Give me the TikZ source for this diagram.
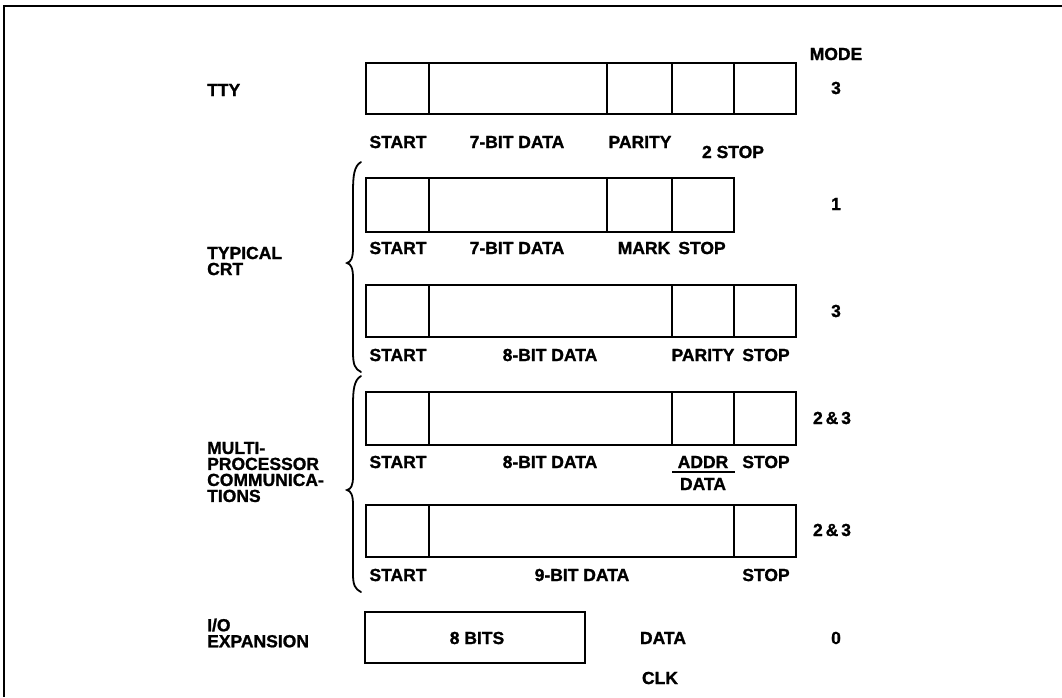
\documentclass[tikz,border=0pt]{standalone}
\usepackage{fontspec}
\setmainfont{Liberation Sans}
\newfontfamily\heavyfont[FakeBold=1.2]{Liberation Sans Bold}
\begin{document}
\begin{tikzpicture}[x=1pt,y=-1pt,
  lab/.style={font=\heavyfont\fontsize{17.5}{16}\selectfont, inner sep=0pt},
  side/.style={lab, anchor=west, align=left},
  fld/.style={line width=1.8pt},
  frame/.style={line width=1.6pt},
  brc/.style={line width=1.8pt, line cap=round}]
\useasboundingbox (0,0) rectangle (1062,697);
% outer frame (top and left)
\draw[frame] (1062,6) -- (4,6) -- (4,697);

% row 1: TTY
\draw[fld] (366,63) rectangle (796,114);
\foreach \x in {429,607,672,734} \draw[fld] (\x,63) -- (\x,114);
% row 2: CRT 7-bit mark
\draw[fld] (366,178) rectangle (734,232);
\foreach \x in {429,607,672} \draw[fld] (\x,178) -- (\x,232);
% row 3: CRT 8-bit parity
\draw[fld] (366,285) rectangle (796,337);
\foreach \x in {429,672,734} \draw[fld] (\x,285) -- (\x,337);
% row 4: multiprocessor 8-bit addr/data
\draw[fld] (366,392) rectangle (796,445);
\foreach \x in {429,672,734} \draw[fld] (\x,392) -- (\x,445);
% row 5: 9-bit
\draw[fld] (366,505) rectangle (796,557);
\foreach \x in {429,734} \draw[fld] (\x,505) -- (\x,557);
% row 6: I/O expansion
\draw[fld] (365,612) rectangle (585,663);

% braces
\draw[brc] (361,162) .. controls (354,166) and (353,176) .. (353,192)
  -- (353,248) .. controls (353,258) and (351,262) .. (347,263)
  .. controls (351,264) and (353,268) .. (353,278)
  -- (353,352) .. controls (353,365) and (355,369) .. (361,372);
\draw[brc] (361,376) .. controls (354,380) and (353,390) .. (353,405)
  -- (353,476) .. controls (353,486) and (351,489) .. (347,490)
  .. controls (351,491) and (353,495) .. (353,505)
  -- (353,574) .. controls (353,585) and (355,589) .. (361,592);

% left labels
\node[side] (tty) at (207,90) {TTY};
\node[side] (crt) at (207,261) {TYPICAL\\CRT};
\node[side] (mpc) at (207,472) {MULTI-\\PROCESSOR\\COMMUNICA-\\TIONS};
\node[side] (io) at (207,633) {I/O\\EXPANSION};

% mode column
\node[lab] (mode) at (836,54) {MODE};
\node[lab] (m1) at (836,88) {3};
\node[lab] (m2) at (836,204) {1};
\node[lab] (m3) at (836,311) {3};
\node[lab] (m4) at (832,418) {2\,\&\,3};
\node[lab] (m5) at (832,530) {2\,\&\,3};
\node[lab] (m6) at (836,638) {0};

% row 1 labels
\node[lab] (r1a) at (398,142) {START};
\node[lab] (r1b) at (517,142) {7-BIT DATA};
\node[lab] (r1c) at (640,142) {PARITY};
\node[lab] (r1d) at (733,152) {2 STOP};
% row 2 labels
\node[lab] (r2a) at (398,248) {START};
\node[lab] (r2b) at (517,248) {7-BIT DATA};
\node[lab] (r2c) at (644,248) {MARK};
\node[lab] (r2d) at (702,248) {STOP};
% row 3 labels
\node[lab] (r3a) at (398,355) {START};
\node[lab] (r3b) at (550,355) {8-BIT DATA};
\node[lab] (r3c) at (703,355) {PARITY};
\node[lab] (r3d) at (766,355) {STOP};
% row 4 labels
\node[lab] (r4a) at (398,462) {START};
\node[lab] (r4b) at (550,462) {8-BIT DATA};
\node[lab] (r4c) at (703,462) {ADDR};
\node[lab] (r4e) at (703,484) {DATA};
\node[lab] (r4d) at (766,462) {STOP};
\coordinate (ul1) at (672,472);
\coordinate (ul2) at (735,472);
\draw[line width=1.2pt] (ul1) -- (ul2);
% row 5 labels
\node[lab] (r5a) at (398,575) {START};
\node[lab] (r5b) at (582,575) {9-BIT DATA};
\node[lab] (r5d) at (766,575) {STOP};
% row 6 labels
\node[lab] (r6a) at (477,638) {8 BITS};
\node[lab] (r6b) at (663,638) {DATA};
\node[lab] (r6c) at (660,678) {CLK};
\end{tikzpicture}
\end{document}
